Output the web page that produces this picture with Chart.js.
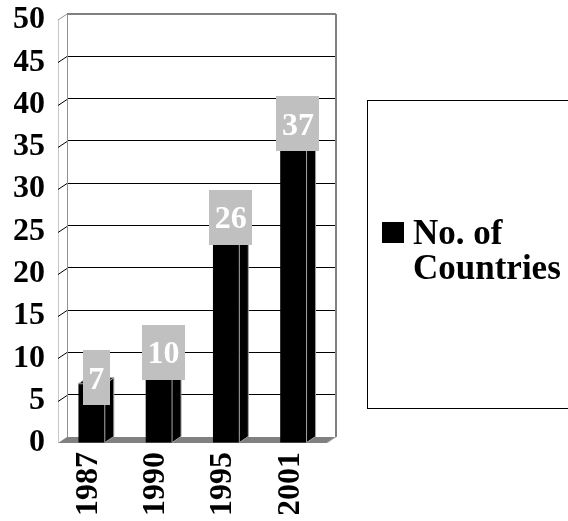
<!DOCTYPE html>
<html>
<head>
<meta charset="utf-8">
<script src="https://cdn.jsdelivr.net/npm/chart.js@4"></script>
<style>
  html, body { margin: 0; padding: 0; background: #fff; }
  canvas { display: block; }
</style>
</head>
<body>
<canvas id="chart" width="568" height="521"></canvas>
<script>
const categories = ['1987', '1990', '1995', '2001'];
const countryCounts = [7, 10, 26, 37];
const valueTicks = [0, 5, 10, 15, 20, 25, 30, 35, 40, 45, 50];
const seriesName = 'No. of Countries';

const SERIF = '"Liberation Serif", "Times New Roman", serif';
// depth of the pseudo-3D box: front plane sits left/below the back wall
const DX = 9;
const DY = 6;

function poly(ctx, pts) {
    ctx.beginPath();
    ctx.moveTo(pts[0][0], pts[0][1]);
    for (let i = 1; i < pts.length; i++) ctx.lineTo(pts[i][0], pts[i][1]);
    ctx.closePath();
}

const boxPlugin = {
    id: 'box3d',
    beforeDatasetsDraw(chart) {
        const { ctx, chartArea: a, scales: { y } } = chart;
        ctx.save();
        // left side wall
        poly(ctx, [[a.left - DX, a.top + DY], [a.left, a.top], [a.left, a.bottom], [a.left - DX, a.bottom + DY]]);
        ctx.fillStyle = '#fff';
        ctx.fill();
        ctx.lineWidth = 1;
        ctx.strokeStyle = '#c8c8c8';
        ctx.beginPath();
        ctx.moveTo(a.left - DX + 0.5, a.top + DY);
        ctx.lineTo(a.left - DX + 0.5, a.bottom + DY);
        ctx.stroke();
        ctx.strokeStyle = '#909090';
        ctx.beginPath();
        ctx.moveTo(a.left - DX, a.top + DY);
        ctx.lineTo(a.left, a.top);
        ctx.moveTo(a.left + 0.5, a.top);
        ctx.lineTo(a.left + 0.5, a.bottom);
        ctx.stroke();

        // gridlines carried across the side wall
        ctx.strokeStyle = '#000';
        y.ticks.forEach(t => {
            if (t.value === 0 || t.value === 50) return;
            const py = Math.round(y.getPixelForValue(t.value)) + 0.5;
            ctx.beginPath();
            ctx.moveTo(a.left, py);
            ctx.lineTo(a.left - DX, py + DY);
            ctx.stroke();
        });

        // back wall right edge
        ctx.strokeStyle = '#808080';
        ctx.lineWidth = 2;
        ctx.beginPath();
        ctx.moveTo(a.right, a.top);
        ctx.lineTo(a.right, a.bottom);
        ctx.stroke();

        // floor
        poly(ctx, [[a.left, a.bottom], [a.right, a.bottom], [a.right - DX, a.bottom + DY], [a.left - DX, a.bottom + DY]]);
        ctx.fillStyle = '#808080';
        ctx.fill();
        ctx.lineWidth = 1;
        ctx.strokeStyle = '#c0c0c0';
        ctx.beginPath();
        ctx.moveTo(a.right, a.bottom);
        ctx.lineTo(a.right - DX, a.bottom + DY);
        ctx.stroke();
        ctx.restore();
    },
    beforeDatasetDraw(chart) {
        chart.ctx.save();
        chart.ctx.translate(-DX, DY);
    },
    afterDatasetDraw(chart) {
        chart.ctx.restore();
    },
    afterDatasetsDraw(chart) {
        const { ctx } = chart;
        const meta = chart.getDatasetMeta(0);
        ctx.save();
        meta.data.forEach((bar, i) => {
            const { x, y, base, width } = bar.getProps(['x', 'y', 'base', 'width'], true);
            const l = x - width / 2;
            const r = x + width / 2;
            ctx.fillStyle = '#000';
            ctx.strokeStyle = '#a0a0a0';
            ctx.lineWidth = 1;
            // side face
            poly(ctx, [[r - DX, y + DY], [r, y], [r, base], [r - DX, base + DY]]);
            ctx.fill();
            ctx.stroke();
            // top face
            poly(ctx, [[l - DX, y + DY], [r - DX, y + DY], [r, y], [l, y]]);
            ctx.fill();
            ctx.stroke();

            // value label in a grey box
            const text = String(countryCounts[i]);
            ctx.font = 'bold 32px ' + SERIF;
            const tw = ctx.measureText(text).width;
            const bw = tw + 11;
            const bh = 55;
            const cx = x - DX / 2;
            const cy = y;
            ctx.fillStyle = '#c0c0c0';
            ctx.fillRect(Math.round(cx - bw / 2), Math.round(cy - bh / 2), Math.round(bw), bh);
            ctx.fillStyle = '#fff';
            ctx.textAlign = 'center';
            ctx.textBaseline = 'alphabetic';
            ctx.fillText(text, cx, cy + 11);
        });
        ctx.restore();
    },
    afterDraw(chart) {
        const { ctx } = chart;
        ctx.save();
        // legend panel
        ctx.strokeStyle = '#000';
        ctx.lineWidth = 1;
        ctx.strokeRect(367.5, 100.5, 230, 308);
        ctx.fillStyle = '#000';
        ctx.fillRect(382, 222, 22, 21);
        ctx.font = 'bold 35px ' + SERIF;
        ctx.textAlign = 'left';
        ctx.textBaseline = 'alphabetic';
        const words = seriesName.split(' ');
        ctx.fillText(words.slice(0, 2).join(' '), 413, 244);
        ctx.fillText(words.slice(2).join(' '), 413, 279);
        ctx.restore();
    }
};

new Chart(document.getElementById('chart').getContext('2d'), {
    type: 'bar',
    data: {
        labels: categories,
        datasets: [{
            label: seriesName,
            data: countryCounts,
            backgroundColor: '#000',
            borderWidth: 0,
            categoryPercentage: 0.8,
            barPercentage: 0.49
        }]
    },
    options: {
        responsive: false,
        animation: false,
        devicePixelRatio: 1,
        layout: {
            padding: { left: 14, right: 232, top: 14, bottom: 7 }
        },
        scales: {
            x: {
                grid: { display: false, drawTicks: false },
                border: { display: false },
                ticks: {
                    color: '#000',
                    font: { family: SERIF, size: 32, weight: 'bold' },
                    minRotation: 90,
                    maxRotation: 90,
                    padding: 15,
                    labelOffset: -12
                },
                afterFit: scale => {
                    scale.height = 77;
                    scale.paddingLeft = 0;
                    scale.paddingRight = 0;
                }
            },
            y: {
                min: 0,
                max: 50,
                afterBuildTicks: scale => {
                    scale.ticks = valueTicks.map(v => ({ value: v }));
                },
                grid: {
                    drawTicks: false,
                    lineWidth: ctx => (ctx.tick && ctx.tick.value === 50 ? 2 : 1),
                    color: ctx => (ctx.tick && ctx.tick.value === 50 ? '#808080' : (ctx.tick && ctx.tick.value === 0 ? 'rgba(0,0,0,0)' : '#000'))
                },
                border: { display: false },
                ticks: {
                    color: '#000',
                    font: { family: SERIF, size: 32, weight: 'bold' },
                    padding: 22,
                    labelOffset: 6
                },
                afterFit: scale => {
                    scale.width = 53;
                    scale.paddingTop = 0;
                    scale.paddingBottom = 0;
                }
            }
        },
        plugins: {
            legend: { display: false },
            tooltip: { enabled: false }
        }
    },
    plugins: [boxPlugin]
});
</script>
</body>
</html>
